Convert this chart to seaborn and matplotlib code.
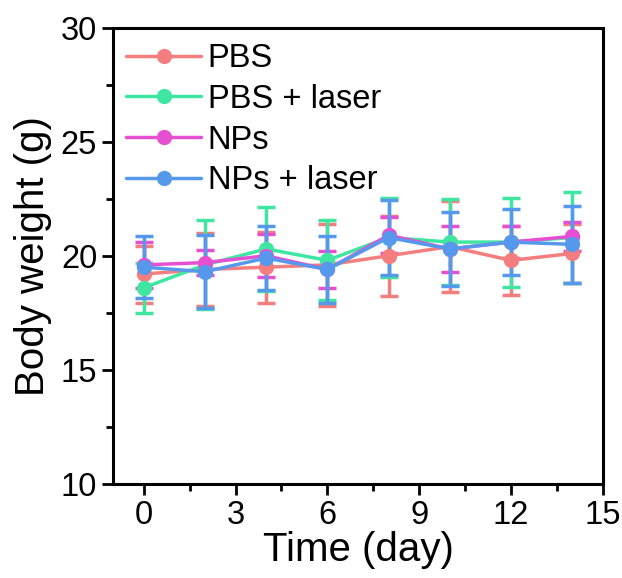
import pandas as pd
import matplotlib.pyplot as plt
import seaborn as sns
from matplotlib.ticker import MultipleLocator

# Body weight data (mean and error)
days = [0, 2, 4, 6, 8, 10, 12, 14]
groups = ['PBS', 'PBS + laser', 'NPs', 'NPs + laser']
colors = ['#F47E7E', '#3FE6A2', '#E74FD2', '#5699EC']

pbs_mean = [19.2, 19.4, 19.5, 19.6, 20.0, 20.4, 19.8, 20.1]
pbs_err = [1.25, 1.6, 1.55, 1.8, 1.75, 2.0, 1.5, 1.3]
pbs_laser_mean = [18.6, 19.6, 20.3, 19.8, 20.8, 20.6, 20.6, 20.8]
pbs_laser_err = [1.1, 1.95, 1.85, 1.75, 1.75, 1.9, 1.95, 2.0]
nps_mean = [19.6, 19.7, 20.0, 19.4, 20.9, 20.3, 20.6, 20.85]
nps_err = [1.0, 0.55, 0.95, 0.8, 0.8, 1.0, 0.7, 0.65]
nps_laser_mean = [19.5, 19.3, 19.9, 19.4, 20.8, 20.3, 20.6, 20.5]
nps_laser_err = [1.35, 1.6, 1.4, 1.45, 1.65, 1.63, 1.44, 1.7]

means = [pbs_mean, pbs_laser_mean, nps_mean, nps_laser_mean]
errs = [pbs_err, pbs_laser_err, nps_err, nps_laser_err]

rows = []
for g, m, e in zip(groups, means, errs):
    for d, mv, ev in zip(days, m, e):
        rows.append({'day': d, 'weight': mv, 'err': ev, 'group': g})
df = pd.DataFrame(rows)

sns.set_style('ticks')
plt.rcParams['font.family'] = ['Liberation Sans', 'DejaVu Sans']
plt.rcParams['text.color'] = 'black'
plt.rcParams['axes.labelcolor'] = 'black'
plt.rcParams['xtick.color'] = 'black'
plt.rcParams['ytick.color'] = 'black'

fig = plt.figure(figsize=(6.22, 5.78), dpi=100)
ax = fig.add_axes([0.182, 0.163, 0.787, 0.789])

# error bars first, one group at a time so blue ends up on top
for g, c in zip(groups, colors):
    sub = df[df['group'] == g]
    ax.errorbar(sub['day'], sub['weight'], yerr=sub['err'], fmt='none',
                ecolor=c, elinewidth=2.5, capsize=6.5, capthick=2.5, zorder=2)

sns.lineplot(data=df, x='day', y='weight', hue='group', palette=colors,
             hue_order=groups, marker='o', markersize=11, linewidth=2.5,
             markeredgewidth=0, ax=ax, zorder=3)

ax.set_xlim(-1, 15)
ax.set_ylim(10, 30)
ax.xaxis.set_major_locator(MultipleLocator(3))
ax.xaxis.set_minor_locator(MultipleLocator(1.5))
ax.yaxis.set_major_locator(MultipleLocator(5))
ax.yaxis.set_minor_locator(MultipleLocator(2.5))
ax.tick_params(which='major', length=8, width=2, labelsize=23.5, direction='out')
ax.tick_params(which='minor', length=5, width=2, direction='out')

for s in ax.spines.values():
    s.set_linewidth(2.2)
    s.set_color('black')

ax.set_xlabel('Time (day)', fontsize=29, labelpad=0)
ax.set_ylabel('Body weight (g)', fontsize=29, labelpad=6)

handles, labels = ax.get_legend_handles_labels()
ax.legend(handles, labels, loc='upper left', frameon=False, fontsize=23.5,
          handlelength=2.3, handletextpad=0.2, labelspacing=0.3,
          borderaxespad=0.0, bbox_to_anchor=(0.0, 0.995))

fig.savefig('out.png', dpi=100)
